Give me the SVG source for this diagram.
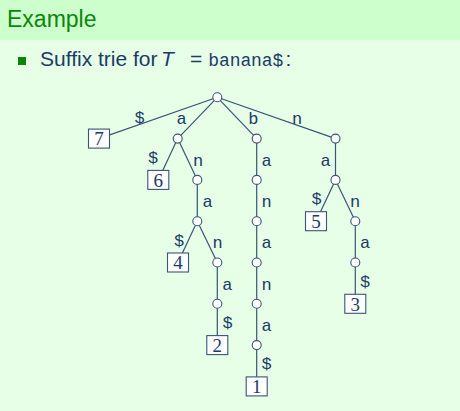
<svg xmlns="http://www.w3.org/2000/svg" width="460" height="411" viewBox="0 0 460 411">
<style>
.e{stroke:#3a5478;stroke-width:1.2;fill:none}
.n{fill:#ffffff;stroke:#3a5478;stroke-width:1.1}
.b{fill:#ffffff;stroke:#3a5478;stroke-width:1.1}
.l{font-family:"Liberation Mono",monospace;font-size:17px;fill:#1c3a68;text-anchor:middle}
.d{font-family:"Liberation Serif",serif;font-size:19px;fill:#1c3a68;text-anchor:middle}
.t{font-family:"Liberation Sans",sans-serif;font-size:21px;fill:#1c3a68}
</style>
<rect x="0" y="0" width="460" height="411" fill="#e6ffe6"/>
<rect x="0" y="0" width="460" height="40" fill="#ccffcc"/>
<text x="7" y="27" font-family="Liberation Sans,sans-serif" font-size="23" fill="#0a870a">Example</text>
<rect x="18" y="57" width="8" height="8" fill="#0a870a"/>
<text class="t" x="40" y="65.5">Suffix trie for</text>
<text class="t" x="161" y="65.5" font-style="italic">T</text>
<text class="t" x="190" y="65.5" textLength="14">=</text>
<text x="208.3" y="65.5" font-family="Liberation Mono,monospace" font-size="18" fill="#1c3a68" textLength="75">banana$</text>
<text class="t" x="285.5" y="65.5">:</text>
<g id="connectors">
<line class="e" x1="217.3" y1="97.3" x2="99" y2="138.6"/>
<line class="e" x1="217.3" y1="97.3" x2="177.7" y2="138.6"/>
<line class="e" x1="217.3" y1="97.3" x2="256.7" y2="138.6"/>
<line class="e" x1="217.3" y1="97.3" x2="335.5" y2="138.6"/>
<line class="e" x1="177.7" y1="138.6" x2="158.3" y2="179.9"/>
<line class="e" x1="177.7" y1="138.6" x2="197.3" y2="179.9"/>
<line class="e" x1="256.7" y1="138.6" x2="256.7" y2="386.4"/>
<line class="e" x1="335.5" y1="138.6" x2="335.5" y2="179.9"/>
<line class="e" x1="197.3" y1="179.9" x2="197.3" y2="221.2"/>
<line class="e" x1="335.5" y1="179.9" x2="316" y2="221.2"/>
<line class="e" x1="335.5" y1="179.9" x2="355.3" y2="221.2"/>
<line class="e" x1="197.3" y1="221.2" x2="178" y2="262.5"/>
<line class="e" x1="197.3" y1="221.2" x2="217.3" y2="262.5"/>
<line class="e" x1="355.3" y1="221.2" x2="355.3" y2="303.8"/>
<line class="e" x1="217.3" y1="262.5" x2="217.3" y2="345.1"/>
<text class="l" x="139.5" y="122.5">$</text>
<text class="l" x="181.7" y="123.5">a</text>
<text class="l" x="253.3" y="124">b</text>
<text class="l" x="297" y="124">n</text>
<text class="l" x="153" y="163">$</text>
<text class="l" x="198" y="165.7">n</text>
<text class="l" x="266.7" y="165.7">a</text>
<text class="l" x="325.7" y="165.7">a</text>
<text class="l" x="207.5" y="207">a</text>
<text class="l" x="266.7" y="207">n</text>
<text class="l" x="316.7" y="204">$</text>
<text class="l" x="355" y="207">n</text>
<text class="l" x="179" y="245.5">$</text>
<text class="l" x="217.7" y="248.3">n</text>
<text class="l" x="266.7" y="248.3">a</text>
<text class="l" x="365" y="248.3">a</text>
<text class="l" x="227.3" y="289.6">a</text>
<text class="l" x="266.7" y="289.6">n</text>
<text class="l" x="365" y="287">$</text>
<text class="l" x="227.7" y="328">$</text>
<text class="l" x="266.7" y="331">a</text>
<text class="l" x="266.7" y="369">$</text>
</g>
<g id="root"><circle class="n" cx="217.3" cy="97.3" r="4.5"/></g>
<g id="node-a"><circle class="n" cx="177.7" cy="138.6" r="4.5"/></g>
<g id="node-b"><circle class="n" cx="256.7" cy="138.6" r="4.5"/></g>
<g id="node-n"><circle class="n" cx="335.5" cy="138.6" r="4.5"/></g>
<g id="node-an"><circle class="n" cx="197.3" cy="179.9" r="4.5"/></g>
<g id="node-ba"><circle class="n" cx="256.7" cy="179.9" r="4.5"/></g>
<g id="node-na"><circle class="n" cx="335.5" cy="179.9" r="4.5"/></g>
<g id="node-ana"><circle class="n" cx="197.3" cy="221.2" r="4.5"/></g>
<g id="node-ban"><circle class="n" cx="256.7" cy="221.2" r="4.5"/></g>
<g id="node-nan"><circle class="n" cx="355.3" cy="221.2" r="4.5"/></g>
<g id="node-anan"><circle class="n" cx="217.3" cy="262.5" r="4.5"/></g>
<g id="node-bana"><circle class="n" cx="256.7" cy="262.5" r="4.5"/></g>
<g id="node-nana"><circle class="n" cx="355.3" cy="262.5" r="4.5"/></g>
<g id="node-anana"><circle class="n" cx="217.3" cy="303.8" r="4.5"/></g>
<g id="node-banan"><circle class="n" cx="256.7" cy="303.8" r="4.5"/></g>
<g id="node-banana"><circle class="n" cx="256.7" cy="345.1" r="4.5"/></g>
<g id="leaf-7"><rect class="b" x="88.5" y="129.1" width="21" height="19"/><text class="d" x="99" y="145.3">7</text></g>
<g id="leaf-6"><rect class="b" x="147.8" y="170.4" width="21" height="19"/><text class="d" x="158.3" y="186.6">6</text></g>
<g id="leaf-5"><rect class="b" x="305.5" y="211.7" width="21" height="19"/><text class="d" x="316" y="227.9">5</text></g>
<g id="leaf-4"><rect class="b" x="167.5" y="253" width="21" height="19"/><text class="d" x="178" y="269.2">4</text></g>
<g id="leaf-3"><rect class="b" x="344.8" y="294.3" width="21" height="19"/><text class="d" x="355.3" y="310.5">3</text></g>
<g id="leaf-2"><rect class="b" x="206.8" y="335.6" width="21" height="19"/><text class="d" x="217.3" y="351.8">2</text></g>
<g id="leaf-1"><rect class="b" x="246.2" y="376.9" width="21" height="19"/><text class="d" x="256.7" y="393.1">1</text></g>
</svg>
